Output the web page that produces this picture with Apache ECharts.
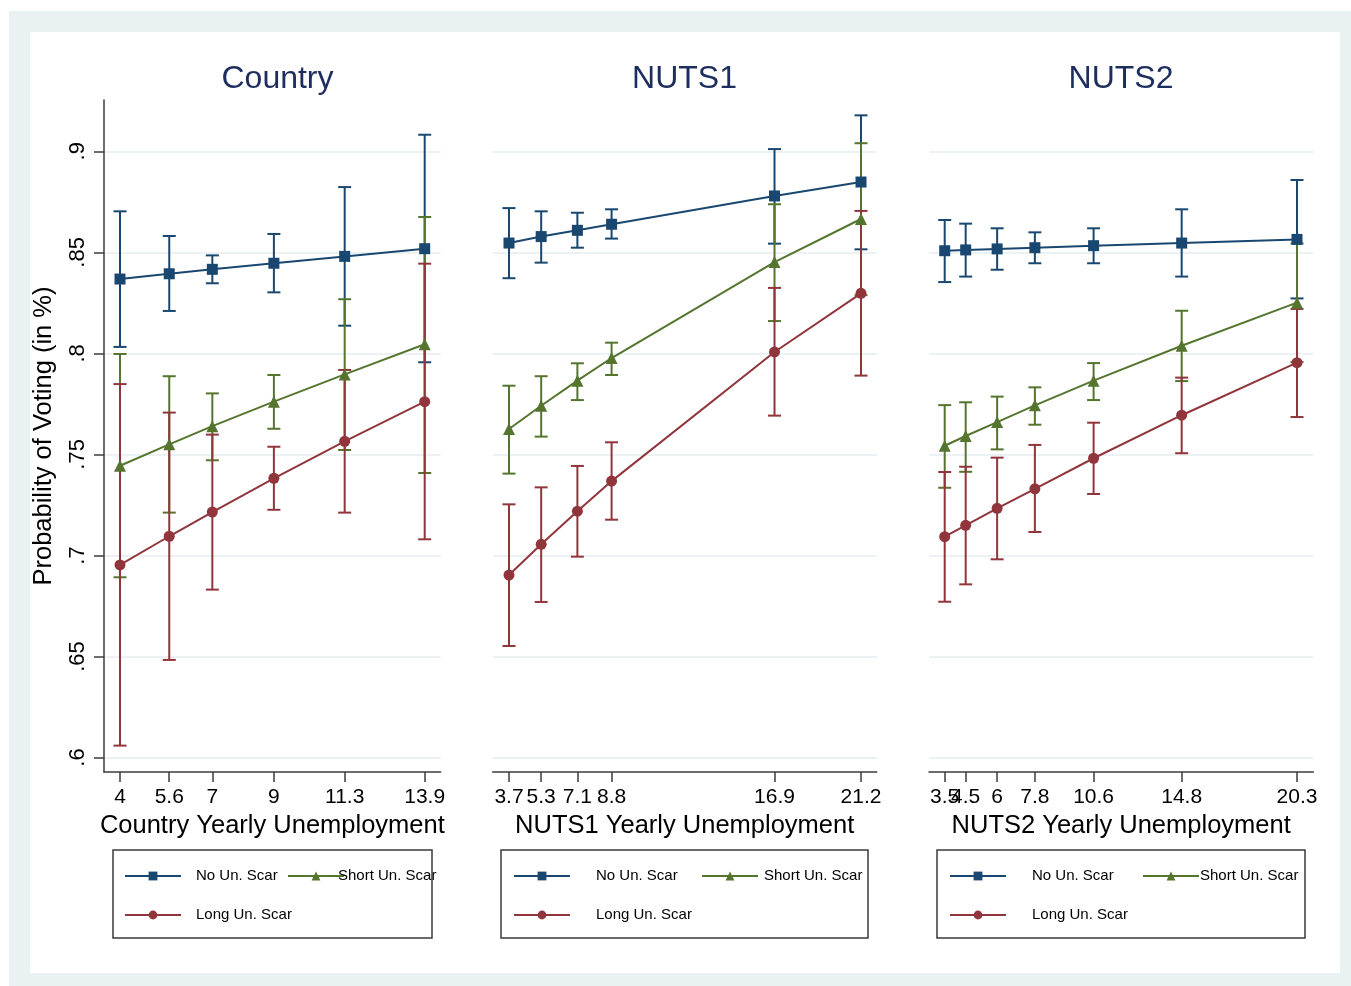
<!DOCTYPE html>
<html><head><meta charset="utf-8">
<script src="https://cdn.jsdelivr.net/npm/echarts@6/dist/echarts.min.js"></script>
<style>html,body{margin:0;padding:0;background:#fff}#c{width:1351px;height:986px}</style>
</head><body><div id="c"></div>
<script>
// ---------- DATA ----------
const panelTitles = ['Country', 'NUTS1', 'NUTS2'];
const xAxisTitles = ['Country Yearly Unemployment', 'NUTS1 Yearly Unemployment', 'NUTS2 Yearly Unemployment'];
const seriesNames = ['No Un. Scar', 'Short Un. Scar', 'Long Un. Scar'];
const yTicks = [0.6, 0.65, 0.7, 0.75, 0.8, 0.85, 0.9];
const yTickLabels = ['.6', '.65', '.7', '.75', '.8', '.85', '.9'];

// Country
const countryX = [4, 5.6, 7, 9, 11.3, 13.9];
const countryXLabels = ['4', '5.6', '7', '9', '11.3', '13.9'];
const countryNo = [0.8368, 0.8394, 0.8416, 0.8446, 0.8480, 0.8518];
const countryNoLo = [0.8032, 0.8210, 0.8347, 0.8302, 0.8137, 0.7956];
const countryNoHi = [0.8703, 0.8581, 0.8485, 0.8591, 0.8823, 0.9082];
const countryShort = [0.7444, 0.7550, 0.7640, 0.7761, 0.7896, 0.8045];
const countryShortLo = [0.6892, 0.7212, 0.7471, 0.7627, 0.7522, 0.7408];
const countryShortHi = [0.7997, 0.7887, 0.7802, 0.7893, 0.8268, 0.8675];
const countryLong = [0.6953, 0.7095, 0.7215, 0.7382, 0.7565, 0.7761];
const countryLongLo = [0.6059, 0.6483, 0.6831, 0.7226, 0.7212, 0.7080];
const countryLongHi = [0.7848, 0.7707, 0.7598, 0.7538, 0.7918, 0.8444];

// NUTS1
const nuts1X = [3.7, 5.3, 7.1, 8.8, 16.9, 21.2];
const nuts1XLabels = ['3.7', '5.3', '7.1', '8.8', '16.9', '21.2'];
const nuts1No = [0.8546, 0.8578, 0.8609, 0.8639, 0.8779, 0.8848];
const nuts1NoLo = [0.8372, 0.8449, 0.8523, 0.8568, 0.8543, 0.8515];
const nuts1NoHi = [0.8719, 0.8703, 0.8696, 0.8713, 0.9011, 0.9178];
const nuts1Short = [0.7626, 0.7741, 0.7865, 0.7977, 0.8452, 0.8665];
const nuts1ShortLo = [0.7405, 0.7588, 0.7769, 0.7893, 0.8160, 0.8288];
const nuts1ShortHi = [0.7840, 0.7887, 0.7951, 0.8053, 0.8738, 0.9040];
const nuts1Long = [0.6903, 0.7055, 0.7219, 0.7368, 0.8007, 0.8297];
const nuts1LongLo = [0.6552, 0.6770, 0.6994, 0.7177, 0.7692, 0.7890];
const nuts1LongHi = [0.7253, 0.7337, 0.7443, 0.7560, 0.8324, 0.8705];

// NUTS2
const nuts2X = [3.5, 4.5, 6, 7.8, 10.6, 14.8, 20.3];
const nuts2XLabels = ['3.5', '4.5', '6', '7.8', '10.6', '14.8', '20.3'];
const nuts2No = [0.8508, 0.8512, 0.8517, 0.8523, 0.8533, 0.8546, 0.8564];
const nuts2NoLo = [0.8353, 0.8380, 0.8414, 0.8446, 0.8446, 0.8380, 0.8272];
const nuts2NoHi = [0.8660, 0.8642, 0.8619, 0.8599, 0.8619, 0.8713, 0.8858];
const nuts2Short = [0.7543, 0.7591, 0.7660, 0.7743, 0.7865, 0.8038, 0.8251];
const nuts2ShortLo = [0.7335, 0.7414, 0.7525, 0.7647, 0.7769, 0.7863, 0.7957];
const nuts2ShortHi = [0.7744, 0.7758, 0.7786, 0.7832, 0.7952, 0.8211, 0.8544];
const nuts2Long = [0.7093, 0.7149, 0.7233, 0.7330, 0.7481, 0.7694, 0.7954];
const nuts2LongLo = [0.6771, 0.6857, 0.6981, 0.7116, 0.7304, 0.7506, 0.7685];
const nuts2LongHi = [0.7413, 0.7439, 0.7484, 0.7547, 0.7657, 0.7880, 0.8220];

// ---------- BUILD ----------
const FONT = '"Liberation Sans", Arial, Helvetica, sans-serif';
const COLORS = ['#1a476f', '#55752f', '#90353b'];
const SYMBOLS = ['rect', 'triangle', 'circle'];
const SYMSIZE = [11, 12, 11];

const panels = [
  {x: countryX, xl: countryXLabels, est: [countryNo, countryShort, countryLong], lo: [countryNoLo, countryShortLo, countryLongLo], hi: [countryNoHi, countryShortHi, countryLongHi], xmin: 3.48, xmax: 14.42,
   grid: {left: 104, top: 100, width: 336.7, height: 672}},
  {x: nuts1X, xl: nuts1XLabels, est: [nuts1No, nuts1Short, nuts1Long], lo: [nuts1NoLo, nuts1ShortLo, nuts1LongLo], hi: [nuts1NoHi, nuts1ShortHi, nuts1LongHi], xmin: 2.89, xmax: 21.98,
   grid: {left: 492.7, top: 100, width: 384, height: 672}},
  {x: nuts2X, xl: nuts2XLabels, est: [nuts2No, nuts2Short, nuts2Long], lo: [nuts2NoLo, nuts2ShortLo, nuts2LongLo], hi: [nuts2NoHi, nuts2ShortHi, nuts2LongHi], xmin: 2.751, xmax: 21.077,
   grid: {left: 929, top: 100, width: 384.3, height: 672}}
];
const titleCenters = [277.5, 684.5, 1121];
const legendBoxes = [[113, 850, 319, 88], [501, 850, 367, 88], [937, 850, 368, 88]];
const legendCols = [[124, 287], [513, 701], [949, 1142]];
const legendPads = [[10, -11], [21, 1], [21, -4]];

function labelFor(arr, labels, v) {
  let best = 0, d = Infinity;
  arr.forEach((a, i) => { const dd = Math.abs(a - v); if (dd < d) { d = dd; best = i; } });
  return labels[best];
}

const grids = [], xAxes = [], yAxes = [], series = [], legends = [], graphics = [];
const AXC = '#3c3c3c';

graphics.push({type: 'rect', z: -10, shape: {x: 9, y: 11, width: 1342, height: 975}, style: {fill: '#e9f1f3'}});
graphics.push({type: 'rect', z: -9, shape: {x: 30, y: 32, width: 1310, height: 941}, style: {fill: '#ffffff'}});

panels.forEach((p, i) => {
  grids.push(Object.assign({containLabel: false}, p.grid));
  // a blank label at the axis minimum absorbs ECharts' min-label overlap check,
  // so that overlapping tick labels (3.5 / 4.5) are both kept, as in the original
  const labelValues = [p.xmin].concat(p.x);
  xAxes.push({
    type: 'value', gridIndex: i, min: p.xmin, max: p.xmax,
    axisLine: {show: true, lineStyle: {color: AXC, width: 1.5}},
    axisTick: {show: true, length: 10, customValues: p.x, lineStyle: {color: AXC, width: 1.5}},
    axisLabel: {customValues: labelValues,
      formatter: v => (Math.abs(v - p.xmin) < 1e-9 ? '' : labelFor(p.x, p.xl, v)),
      fontSize: 21, margin: 15, color: '#000', fontFamily: FONT,
      showMinLabel: false, showMaxLabel: true, hideOverlap: false},
    splitLine: {show: false},
    name: xAxisTitles[i], nameLocation: 'middle', nameGap: 38,
    nameTextStyle: {fontSize: 25.5, color: '#000', fontFamily: FONT}
  });
  const ya = {
    type: 'value', gridIndex: i, min: 0.59284, max: 0.92539,
    splitLine: {show: true, lineStyle: {color: '#e6eef1', width: 1.5}},
    axisTick: {show: i === 0, length: 10, customValues: yTicks, lineStyle: {color: AXC, width: 1.5}},
    axisLabel: {show: i === 0, customValues: yTicks, rotate: 90, formatter: v => labelFor(yTicks, yTickLabels, v), fontSize: 22, margin: 15, color: '#000', fontFamily: FONT,
      showMinLabel: true, showMaxLabel: true},
    axisLine: {show: i === 0, lineStyle: {color: AXC, width: 1.5}}
  };
  if (i === 0) {
    ya.name = 'Probability of Voting (in %)';
    ya.nameLocation = 'middle';
    ya.nameGap = 47;
    ya.nameTextStyle = {fontSize: 25.5, color: '#000', fontFamily: FONT};
  }
  yAxes.push(ya);

  // lines with markers
  for (let g = 0; g < 3; g++) {
    series.push({
      type: 'line', name: seriesNames[g], xAxisIndex: i, yAxisIndex: i,
      data: p.x.map((xv, k) => [xv, p.est[g][k]]),
      symbol: SYMBOLS[g], symbolSize: SYMSIZE[g],
      itemStyle: {color: COLORS[g]}, lineStyle: {color: COLORS[g], width: 2},
      z: 4, animation: false
    });
  }
  // error bars
  for (let g = 0; g < 3; g++) {
    const col = COLORS[g];
    series.push({
      type: 'custom', name: seriesNames[g], xAxisIndex: i, yAxisIndex: i,
      data: p.x.map((xv, k) => [xv, p.lo[g][k], p.hi[g][k]]),
      encode: {x: 0, y: [1, 2]},
      z: 3, animation: false,
      renderItem: function (params, api) {
        const xv = api.value(0);
        const a = api.coord([xv, api.value(1)]);
        const b = api.coord([xv, api.value(2)]);
        const hw = 6.5;
        const st = {stroke: col, lineWidth: 2, fill: null};
        return {type: 'group', children: [
          {type: 'line', shape: {x1: a[0], y1: a[1], x2: b[0], y2: b[1]}, style: st},
          {type: 'line', shape: {x1: a[0] - hw, y1: a[1], x2: a[0] + hw, y2: a[1]}, style: st},
          {type: 'line', shape: {x1: b[0] - hw, y1: b[1], x2: b[0] + hw, y2: b[1]}, style: st}
        ]};
      }
    });
  }

  // panel title
  graphics.push({type: 'text', x: titleCenters[i], y: 79, z: 10,
    style: {text: panelTitles[i], fontSize: 32, fontFamily: FONT, fill: '#1c2d5e',
      align: 'center', verticalAlign: 'middle', textAlign: 'center', textVerticalAlign: 'middle'}});

  // legend box
  const lb = legendBoxes[i];
  graphics.push({type: 'rect', z: 5, shape: {x: lb[0], y: lb[1], width: lb[2], height: lb[3]},
    style: {fill: 'rgba(0,0,0,0)', stroke: '#3a3a3a', lineWidth: 1.5}});

  // legends (one per key, positioned like the original)
  const cols = legendCols[i], pads = legendPads[i];
  const pos = [[cols[0], 868.5, pads[0]], [cols[1], 868.5, pads[1]], [cols[0], 907.5, pads[0]]];
  for (let g = 0; g < 3; g++) {
    legends.push({
      data: [seriesNames[g]], left: pos[g][0], top: pos[g][1], padding: 0,
      itemWidth: 56, itemHeight: 11, orient: 'horizontal',
      textStyle: {fontSize: 15, color: '#000', fontFamily: FONT, padding: [0, 0, 0, pos[g][2]]},
      selectedMode: false
    });
  }
});

const chart = echarts.init(document.getElementById('c'), null, {renderer: 'canvas'});
chart.setOption({
  animation: false,
  backgroundColor: '#ffffff',
  textStyle: {fontFamily: FONT},
  grid: grids, xAxis: xAxes, yAxis: yAxes, series: series, legend: legends,
  graphic: {elements: graphics}
});
</script></body></html>
